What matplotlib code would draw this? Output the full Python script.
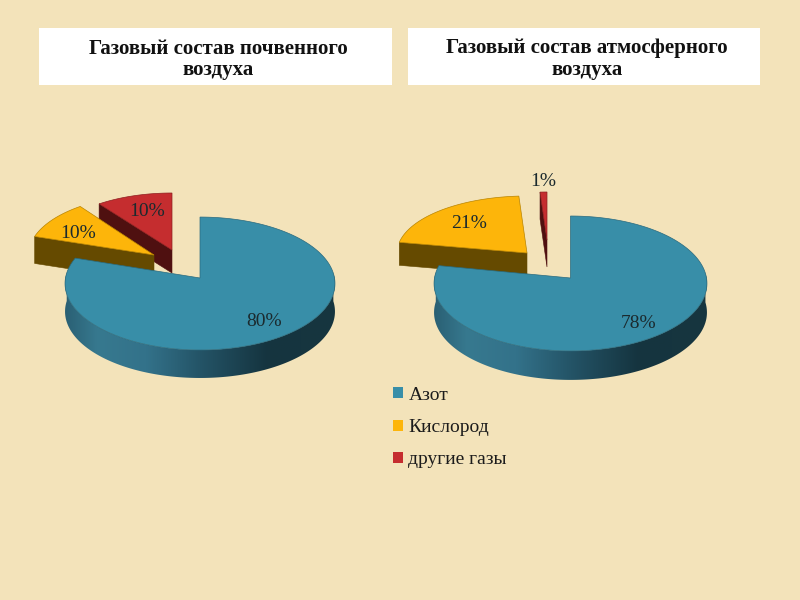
import numpy as np
import matplotlib
matplotlib.use("Agg")
import matplotlib.pyplot as plt
from matplotlib.patches import Polygon, Rectangle, Patch
from matplotlib.colors import to_rgb

categories = ["Азот", "Кислород", "другие газы"]
soil_values = [80, 10, 10]
air_values = [78, 21, 1]
titles = ["Газовый состав почвенного\nвоздуха", "Газовый состав атмосферного\nвоздуха"]

TOP = ["#388EA8", "#FDB50A", "#C52D2F"]
SIDE = ["#1F5266", "#654A00", "#4F1010"]
EDGE = ["#2A6A7E", "#B98400", "#8E1F20"]
BG = "#F3E3BA"
SERIF = "Liberation Serif"

# layout per slice: tip x, tip y, Rx, Ry, depth, perspective
soil_layout = [(200, 278, 134.5, 66, 28, 0.083),
               (154, 255, 125.5, 60, 27, 0),
               (172, 250, 124, 57, 23, 0)]
air_layout = [(570.5, 278, 136, 67, 29, 0.081),
              (527, 253, 130, 57, 23, 0),
              (547, 240, 111, 48, 27, 0)]
soil_label_xy = [(264, 322), (78, 233), (147, 211)]
air_label_xy = [(639, 323), (469, 224), (543, 182)]

fig = plt.figure(figsize=(8, 6), dpi=100, facecolor=BG)
ax = fig.add_axes([0, 0, 1, 1])


def wall_colour(frac):
    stops = [0.0, 0.12, 0.3, 0.5, 0.75, 1.0]
    cols = np.array([to_rgb(c) for c in ["#2A6074", "#37798F", "#33728A", "#245467", "#15343F", "#17363F"]])
    return np.stack([np.interp(frac, stops, cols[:, i]) for i in range(3)], axis=-1)


def draw_pie(values, layout, label_xy):
    edges = np.cumsum([0] + list(values)) / sum(values) * 2 * np.pi
    # back slices first, so that the large slice lies over the others
    for i in reversed(range(len(values))):
        a0, a1 = edges[i], edges[i + 1]
        tx, ty, rx, ry, depth, p = layout[i]
        z = 2 + 3 - i
        t = np.linspace(a0, a1, 360)
        s = 1 / (1 + p * np.cos(t))
        px = tx + rx * np.sin(t) * s
        py = ty - ry * np.cos(t) * s
        # radial cut face turned to the viewer
        if i > 0:
            ax.add_patch(Polygon([(tx, ty), (px[0], py[0]), (px[0], py[0] + depth), (tx, ty + depth)],
                                 closed=True, fc=SIDE[i], ec=SIDE[i], lw=0.4, zorder=z))
        # outer wall: the part of the rim that faces the viewer, in a horizontal gradient
        front = np.cos(t) < p
        if front.any():
            fx, fy = px[front], py[front]
            by = fy + depth
            outline = list(zip(fx, fy)) + list(zip(fx[::-1], by[::-1]))
            clip = Polygon(outline, closed=True, transform=ax.transData, fc="none", ec="none")
            ax.add_patch(clip)
            x0, x1 = fx.min(), fx.max()
            grad = wall_colour(np.linspace(0, 1, 256))[np.newaxis, :, :]
            im = ax.imshow(grad, extent=(x0, x1, by.max(), fy.min()), aspect="auto",
                           interpolation="bilinear", zorder=z)
            im.set_clip_path(clip)
        # top face
        pts = [(tx, ty)] + list(zip(px, py))
        ax.add_patch(Polygon(pts, closed=True, fc=TOP[i], ec=EDGE[i], lw=0.5, zorder=z + 0.5))
    for v, (x, y) in zip(values, label_xy):
        ax.text(x, y, f"{v}%", family=SERIF, fontsize=14, color="#1B2A2E",
                ha="center", va="center", zorder=10)


# title boxes
for (x0, x1, tx), title in zip([(39, 392, 218.5), (408, 760, 587)], titles):
    ax.add_patch(Rectangle((x0, 28), x1 - x0, 57, fc="white", ec="none", zorder=1))
    line1, line2 = title.split("\n")
    ax.text(tx, 48.5, line1, family=SERIF, fontweight="bold", fontsize=15, color="#111111",
            ha="center", va="center", zorder=2)
    ax.text(tx, 69.5, line2, family=SERIF, fontweight="bold", fontsize=15, color="#111111",
            ha="center", va="center", zorder=2)

draw_pie(soil_values, soil_layout, soil_label_xy)
draw_pie(air_values, air_layout, air_label_xy)

ax.set_xlim(0, 800)
ax.set_ylim(600, 0)
ax.axis("off")

handles = [Patch(fc=c, ec="none") for c in TOP]
ax.legend(handles, categories, loc="upper left", bbox_to_anchor=(385 / 800, 1 - 379 / 600),
          frameon=False, prop={"family": SERIF, "size": 14}, labelcolor="#1C1C1C",
          handlelength=0.5, handleheight=0.5, handletextpad=0.3, labelspacing=0.78,
          borderpad=0.4, borderaxespad=0)

fig.savefig("out.png", dpi=100, facecolor=BG)
